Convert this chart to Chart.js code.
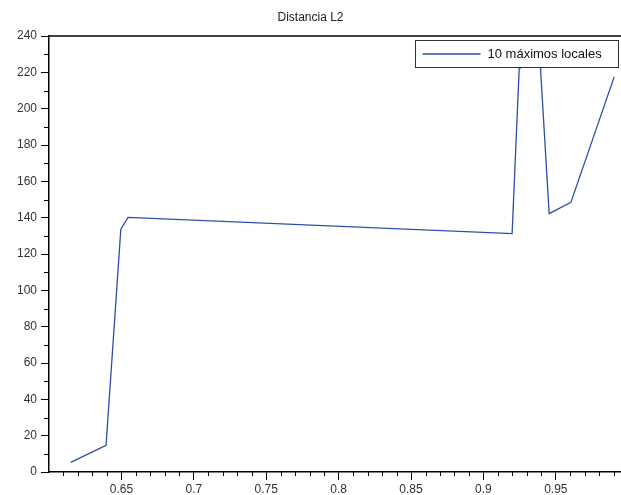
<!DOCTYPE html>
<html lang="es">
<head>
  <meta charset="UTF-8" />
  <title>Distancia L2</title>
  <script src="https://cdn.jsdelivr.net/npm/chart.js"></script>
  <style>
    body {
      margin: 0;
      background: #fff;
    }
    canvas {
      display: block;
    }
  </style>
</head>
<body>
  <canvas id="l2Chart" width="621" height="495"></canvas>

  <script>
    // 10 máximos locales: posición y distancia L2
    const posiciones = [0.615, 0.6394, 0.6496, 0.6546, 0.9198, 0.9247, 0.9389, 0.9454, 0.9604, 0.9903];
    const distancias = [5.3, 14.7, 133.7, 140.2, 131.2, 222.0, 229.0, 142.2, 148.4, 217.5];

    const xTicks = [0.65, 0.7, 0.75, 0.8, 0.85, 0.9, 0.95];
    const yTicks = [0, 20, 40, 60, 80, 100, 120, 140, 160, 180, 200, 220, 240];

    const serieLabel = '10 máximos locales';
    const azul = '#2b4fa6';

    Chart.defaults.font.family = 'Arial, "Liberation Sans", sans-serif';

    // marcas secundarias, borde superior y leyenda dentro del gráfico
    const extras = {
      id: 'extras',
      afterDraw(chart) {
        const c = chart.ctx;
        const area = chart.chartArea;
        const sx = chart.scales.x, sy = chart.scales.y;
        c.save();
        c.strokeStyle = '#000';
        c.lineWidth = 1;

        c.beginPath();
        for (let i = 61; i <= 99; i++) {
          if (i % 5 === 0) continue;
          const px = Math.round(sx.getPixelForValue(i / 100)) + 0.5;
          c.moveTo(px, area.bottom);
          c.lineTo(px, area.bottom + 4);
        }
        for (let v = 10; v < 240; v += 20) {
          const py = Math.round(sy.getPixelForValue(v)) + 0.5;
          c.moveTo(area.left - 5, py);
          c.lineTo(area.left, py);
        }
        c.stroke();

        c.lineWidth = 1.5;
        c.beginPath();
        c.moveTo(area.left, area.top);
        c.lineTo(area.right, area.top);
        c.stroke();

        // leyenda
        const lx = 415.5, ly = 40.5, lw = 203, lh = 27;
        c.fillStyle = '#fff';
        c.fillRect(lx, ly, lw, lh);
        c.lineWidth = 1;
        c.strokeStyle = '#333';
        c.strokeRect(lx, ly, lw, lh);
        c.strokeStyle = azul;
        c.lineWidth = 1.3;
        c.beginPath();
        c.moveTo(lx + 7, ly + 13.5);
        c.lineTo(lx + 65, ly + 13.5);
        c.stroke();
        c.fillStyle = '#111';
        c.font = '13px Arial, "Liberation Sans", sans-serif';
        c.textBaseline = 'middle';
        c.fillText(serieLabel, lx + 72, ly + 14);
        c.restore();
      }
    };

    const ctx = document.getElementById('l2Chart').getContext('2d');
    new Chart(ctx, {
      type: 'scatter',
      data: {
        datasets: [{
          label: serieLabel,
          data: posiciones.map((x, i) => ({ x: x, y: distancias[i] })),
          showLine: true,
          borderColor: azul,
          borderWidth: 1.3,
          pointRadius: 0,
          fill: false,
          tension: 0
        }]
      },
      options: {
        responsive: false,
        animation: false,
        layout: { padding: 0 },
        scales: {
          x: {
            type: 'linear',
            min: 0.6,
            max: 0.995,
            afterBuildTicks: s => { s.ticks = xTicks.map(v => ({ value: v })); },
            afterFit: s => { s.height = 23; },
            grid: { drawOnChartArea: false, tickLength: 8, color: '#000' },
            border: { color: '#000', width: 1.5 },
            ticks: {
              color: '#333',
              font: { size: 12 },
              padding: 2,
              maxRotation: 0,
              callback: v => String(+v.toFixed(2))
            }
          },
          y: {
            min: 0,
            max: 240,
            afterBuildTicks: s => { s.ticks = yTicks.map(v => ({ value: v })); },
            afterFit: s => { s.width = 49; },
            grid: { drawOnChartArea: false, tickLength: 8, color: '#000' },
            border: { color: '#000', width: 1.5 },
            ticks: {
              color: '#333',
              font: { size: 12 },
              padding: 4
            }
          }
        },
        plugins: {
          legend: { display: false },
          tooltip: { enabled: false },
          title: {
            display: true,
            text: 'Distancia L2',
            color: '#222',
            font: { size: 12, weight: 'normal' },
            padding: { top: 10, bottom: 11.6 }
          }
        }
      },
      plugins: [extras]
    });
  </script>
</body>
</html>
